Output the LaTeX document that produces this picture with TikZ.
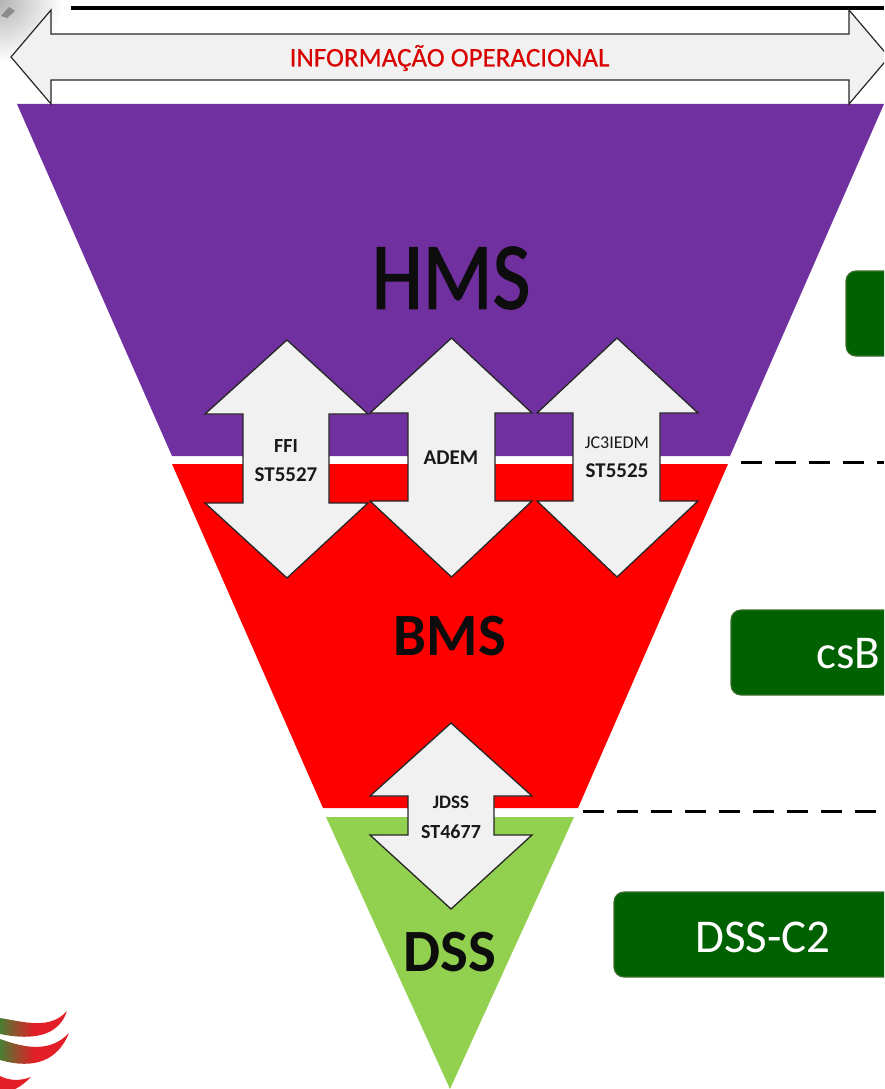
\documentclass[tikz,border=0pt]{standalone}
\usepackage{fontspec}
\setmainfont{Carlito}
\newfontfamily\heavy[FakeBold=1.6]{Carlito}
\newfontfamily\semi[FakeBold=0.4]{Carlito}
\tikzset{
  dblarrow/.style={draw=black!85,line width=1.3pt,fill=arrowgray,line join=miter},
  lbl/.style={inner sep=0pt,align=center,text=black!90},
  stdbox/.style={draw=boxedge,line width=1.2pt,fill=boxgreen,rounded corners=10pt},
  cut/.style={draw=black,line width=3pt,dash pattern=on 21pt off 13pt},
}
\definecolor{arrowgray}{RGB}{241,241,241}
\definecolor{hmspurple}{RGB}{112,48,160}
\definecolor{bmsred}{RGB}{255,0,0}
\definecolor{dssgreen}{RGB}{146,208,80}
\definecolor{boxgreen}{RGB}{0,97,0}
\definecolor{boxedge}{RGB}{60,110,45}
\definecolor{swred}{RGB}{226,30,38}
\definecolor{swgreen}{RGB}{75,125,50}
\newcommand{\fs}[1]{\fontsize{#1}{#1}\selectfont}
\begin{document}
\begin{tikzpicture}[x=1pt,y=-1pt]
\useasboundingbox (0,0) rectangle (884,1089);
\clip (0,0) rectangle (884,1089);
% corner smudge
\shade[inner color=black!30,outer color=white] (-62,-62) rectangle (62,62);
\fill[black!45] (1,16) -- (9,7) -- (15,11) -- (7,18) -- cycle;
% top rule
\draw[black,line width=3.6pt] (71,8) -- (884,8);
% pyramid
\fill[hmspurple] (17,104) -- (884,104) -- (730,456) -- (172,456) -- cycle;
\fill[bmsred] (172,464) -- (728,464) -- (578,808) -- (323,808) -- cycle;
\fill[dssgreen] (326,817) -- (574,817) -- (450,1089) -- cycle;
% top double arrow
\draw[dblarrow,line width=1.2pt] (11,57) -- (51,10) -- (51,34) -- (849,34) -- (849,10) -- (889,57) -- (849,104) -- (849,80) -- (51,80) -- (51,104) -- cycle;
\node[inner sep=0pt,text=red!85!black] (info) at (449.5,58) {\semi\fs{27}INFORMAÇÃO OPERACIONAL};
% level labels
\node[lbl,text=black!95,xscale=0.93,yscale=1.08] (hms) at (451,278) {\heavy\fs{88}HMS};
\node[lbl,font=\bfseries,text=black!95,xscale=0.98] (bms) at (450,636) {\fs{60}BMS};
\node[lbl,font=\bfseries,text=black!95,xscale=0.98] (dss) at (450,952) {\fs{60}DSS};
% vertical double arrows
\draw[dblarrow] (287,340) -- (368,414) -- (329,414) -- (329,503) -- (368,503) -- (287,578) -- (205,503) -- (243,503) -- (243,414) -- (205,414) -- cycle;
\draw[dblarrow] (451.5,338) -- (532,413) -- (495,413) -- (495,501) -- (532,501) -- (451.5,577) -- (370,501) -- (408,501) -- (408,413) -- (370,413) -- cycle;
\draw[dblarrow] (617,338) -- (698,413) -- (660,413) -- (660,501) -- (698,501) -- (617,577) -- (537,501) -- (573,501) -- (573,413) -- (537,413) -- cycle;
\draw[dblarrow] (451,723) -- (532,796) -- (494,796) -- (494,835) -- (532,835) -- (451,909) -- (370,835) -- (408,835) -- (408,796) -- (370,796) -- cycle;
\node[lbl,font=\bfseries] (ffi) at (286,446) {\fs{20}FFI};
\node[lbl,font=\bfseries] (st5527) at (286,475) {\fs{21}ST5527};
\node[lbl,font=\bfseries] (adem) at (451,458) {\fs{21}ADEM};
\node[lbl] (jc) at (617,443) {\fs{18}JC3IEDM};
\node[lbl,font=\bfseries] (st5525) at (617,471) {\fs{21}ST5525};
\node[lbl,font=\bfseries] (jdss) at (451,802) {\fs{19}JDSS};
\node[lbl,font=\bfseries] (st4677) at (451,832) {\fs{20}ST4677};
% right-hand boxes
\draw[stdbox] (846,271) rectangle (930,356);
\draw[stdbox] (731,610) rectangle (930,695);
\draw[stdbox] (614,892) rectangle (930,977);
\node[inner sep=0pt,text=white,anchor=west] (csb) at (816,654) {\fs{47}csB};
\node[inner sep=0pt,text=white] (dssc2) at (763,937) {\fs{47}DSS-C2};
% dashed separators
\coordinate (a1) at (741,462); \coordinate (a2) at (884,462);
\coordinate (b1) at (583,811); \coordinate (b2) at (884,811);
\draw[cut] (a1) -- (a2);
\draw[cut] (b1) -- (b2);
% logo swooshes
\begin{scope}
\clip (0,1018) .. controls (25,1022) and (50,1030) .. (67,1011) .. controls (60,1032) and (40,1042) .. (0,1034) -- cycle;
\shade[left color=swgreen,right color=swred] (0,1005) rectangle (34,1045);
\fill[swred] (34,1005) rectangle (70,1045);
\end{scope}
\begin{scope}
\clip (0,1039) .. controls (25,1048) and (50,1053) .. (69,1033) .. controls (58,1060) and (35,1070) .. (0,1060) -- cycle;
\shade[left color=swgreen,right color=swred] (0,1030) rectangle (34,1070);
\fill[swred] (34,1030) rectangle (70,1070);
\end{scope}
\fill[swred] (0,1076) .. controls (10,1081) and (20,1081) .. (31,1077) .. controls (22,1086) and (16,1089) .. (10,1091) -- (0,1091) -- cycle;
\end{tikzpicture}
\end{document}
